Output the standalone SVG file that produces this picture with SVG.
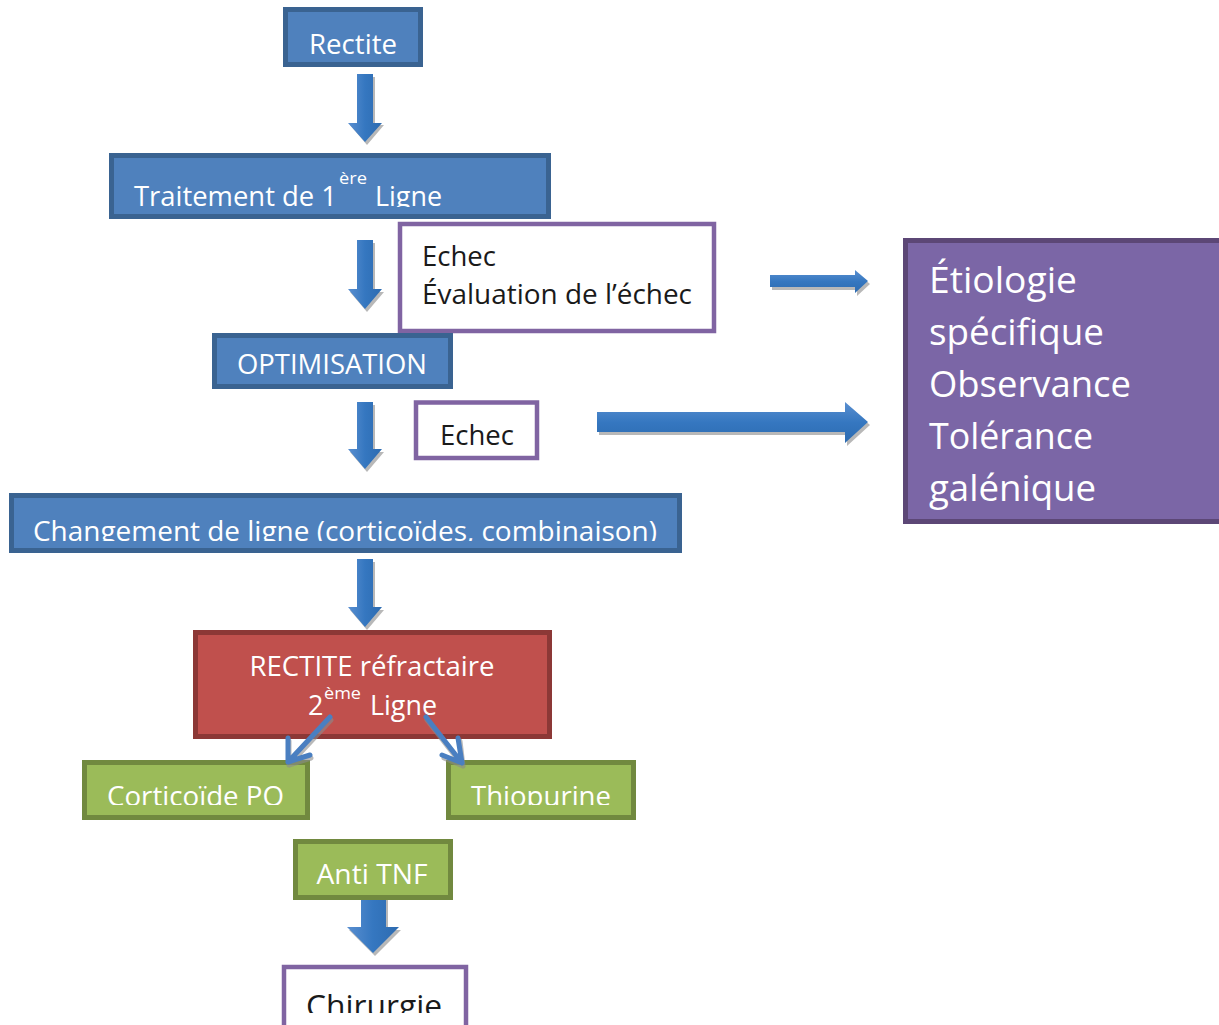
<svg xmlns="http://www.w3.org/2000/svg" width="1219" height="1025" viewBox="0 0 1219 1025">
<style>
  .blue{fill:#4f81bd;stroke:#3a6391;stroke-width:5}
  .red{fill:#c0504d;stroke:#8c3836;stroke-width:5}
  .green{fill:#9bbb59;stroke:#71893f;stroke-width:5}
  .purp{fill:#7b66a6;stroke:#5c4776;stroke-width:5}
  .white{fill:#ffffff;stroke:#8064a2;stroke-width:4.5}
  text{font-family:"Open Sans","Noto Sans","DejaVu Sans",sans-serif}
  .tw{fill:#ffffff;font-size:27px}
  .tb{fill:#1a1a1a;font-size:27px}
  .sup{font-size:16px}
  .big{fill:#ffffff;font-size:36px}
  .arr{fill:url(#gv)}
  .arrh{fill:url(#gh)}
  .sh{fill:#a6a6a6;opacity:0.8}
  .diag{stroke:#4a7fc1;stroke-width:5;fill:none;stroke-linecap:round;stroke-linejoin:round}
  .diagsh{stroke:#8a8a8a;stroke-width:5;fill:none;stroke-linecap:round;stroke-linejoin:round;opacity:0.6}
</style>
<defs>
  <linearGradient id="gv" x1="0" y1="0" x2="1" y2="0">
    <stop offset="0" stop-color="#5a8fd0"/>
    <stop offset="0.5" stop-color="#3577c0"/>
    <stop offset="1" stop-color="#2d6bb0"/>
  </linearGradient>
  <linearGradient id="gh" x1="0" y1="0" x2="0" y2="1">
    <stop offset="0" stop-color="#5a8fd0"/>
    <stop offset="0.5" stop-color="#3577c0"/>
    <stop offset="1" stop-color="#2d6bb0"/>
  </linearGradient>
  <clipPath id="c1"><rect x="100" y="150" width="460" height="57"/></clipPath>
  <clipPath id="c2"><rect x="0" y="490" width="700" height="51"/></clipPath>
  <clipPath id="c3"><rect x="80" y="760" width="600" height="45"/></clipPath>
  <clipPath id="c4"><rect x="280" y="960" width="200" height="53"/></clipPath>
</defs>

<g id="connectors">
  <polygon class="sh" points="359,77 375,77 375,125 384,125 367,145 350,125 359,125"/>
  <polygon class="arr" points="357,74 373,74 373,123 382,123 365,142 348,123 357,123"/>
  <polygon class="sh" points="359,243 375,243 375,292 384,292 367,312 350,292 359,292"/>
  <polygon class="arr" points="357,240 373,240 373,289 382,289 365,309 348,289 357,289"/>
  <polygon class="sh" points="359,405 375,405 375,452 384,452 367,472 350,452 359,452"/>
  <polygon class="arr" points="357,402 373,402 373,449 382,449 365,469 348,449 357,449"/>
  <polygon class="sh" points="359,562 375,562 375,610 384,610 367,630 350,610 359,610"/>
  <polygon class="arr" points="357,559 373,559 373,607 382,607 365,627 348,607 357,607"/>
  <polygon class="sh" points="364,900 388,900 388,930 401,930 375,956 349,930 364,930"/>
  <polygon class="arr" points="361,897 386,897 386,927 399,927 373,953 347,927 361,927"/>
  <polygon class="sh" points="772,278 857,278 857,273 870,284 857,296 857,290 772,290"/>
  <polygon class="arrh" points="770,275 855,275 855,270 868,281 855,293 855,287 770,287"/>
  <polygon class="sh" points="599,415 847,415 847,405 870,425 847,446 847,435 599,435"/>
  <polygon class="arrh" points="597,412 845,412 845,402 868,422 845,443 845,432 597,432"/>
</g>

<g id="rectite">
  <rect class="blue" x="285.5" y="9.5" width="135" height="55"/>
  <text class="tw" x="353" y="54" text-anchor="middle" textLength="88" lengthAdjust="spacingAndGlyphs">Rectite</text>
</g>

<g id="traitement">
  <rect class="blue" x="111.5" y="155.5" width="437" height="61"/>
  <g clip-path="url(#c1)">
    <text class="tw" x="134" y="206" textLength="203" lengthAdjust="spacingAndGlyphs">Traitement de 1</text>
    <text class="tw" x="375" y="206" textLength="67" lengthAdjust="spacingAndGlyphs">Ligne</text>
  </g>
  <text class="tw sup" x="339" y="184" textLength="28" lengthAdjust="spacingAndGlyphs">ère</text>
</g>

<g id="echec1">
  <rect class="white" x="400" y="224" width="314" height="107"/>
  <text class="tb" x="422" y="266" textLength="74" lengthAdjust="spacingAndGlyphs">Echec</text>
  <text class="tb" x="422" y="304" textLength="270" lengthAdjust="spacingAndGlyphs">Évaluation de l’échec</text>
</g>

<g id="optimisation">
  <rect class="blue" x="214.5" y="335.5" width="236" height="51"/>
  <text class="tw" x="332" y="374" text-anchor="middle" textLength="190" lengthAdjust="spacingAndGlyphs">OPTIMISATION</text>
</g>

<g id="echec2">
  <rect class="white" x="416" y="402.5" width="121" height="55.5"/>
  <text class="tb" x="440" y="445" textLength="74" lengthAdjust="spacingAndGlyphs">Echec</text>
</g>

<g id="etiologie">
  <rect class="purp" x="905.5" y="240.5" width="330" height="281"/>
  <text class="big" x="929" y="293" textLength="148" lengthAdjust="spacingAndGlyphs">Étiologie</text>
  <text class="big" x="929" y="345" textLength="175" lengthAdjust="spacingAndGlyphs">spécifique</text>
  <text class="big" x="929" y="397" textLength="202" lengthAdjust="spacingAndGlyphs">Observance</text>
  <text class="big" x="929" y="449" textLength="164" lengthAdjust="spacingAndGlyphs">Tolérance</text>
  <text class="big" x="929" y="501" textLength="167" lengthAdjust="spacingAndGlyphs">galénique</text>
</g>

<g id="changement">
  <rect class="blue" x="11.5" y="495.5" width="668" height="55"/>
  <g clip-path="url(#c2)">
    <text class="tw" x="33" y="541" textLength="624" lengthAdjust="spacingAndGlyphs">Changement de ligne (corticoïdes, combinaison)</text>
  </g>
</g>

<g id="refractaire">
  <rect class="red" x="195.5" y="632.5" width="354" height="104"/>
  <text class="tw" x="372" y="676" text-anchor="middle" textLength="245" lengthAdjust="spacingAndGlyphs">RECTITE réfractaire</text>
  <text class="tw" x="308" y="715">2</text>
  <text class="tw sup" x="324" y="699" textLength="37" lengthAdjust="spacingAndGlyphs">ème</text>
  <text class="tw" x="370" y="715" textLength="67" lengthAdjust="spacingAndGlyphs">Ligne</text>
</g>

<g id="corticoide">
  <rect class="green" x="84.5" y="762.5" width="223" height="55"/>
  <g clip-path="url(#c3)">
    <text class="tw" x="107" y="806" textLength="177" lengthAdjust="spacingAndGlyphs">Corticoïde PO</text>
  </g>
</g>

<g id="thiopurine">
  <rect class="green" x="448.5" y="762.5" width="185" height="55"/>
  <g clip-path="url(#c3)">
    <text class="tw" x="471" y="806" textLength="140" lengthAdjust="spacingAndGlyphs">Thiopurine</text>
  </g>
</g>

<g id="antitnf">
  <rect class="green" x="295.5" y="841.5" width="155" height="56"/>
  <text class="tw" x="372" y="884" text-anchor="middle" textLength="111" lengthAdjust="spacingAndGlyphs">Anti TNF</text>
</g>

<g id="chirurgie">
  <rect class="white" x="284" y="967" width="182" height="70"/>
  <g clip-path="url(#c4)">
    <text class="tb" x="306" y="1017" style="font-size:31px" textLength="136" lengthAdjust="spacingAndGlyphs">Chirurgie</text>
  </g>
</g>

<g id="connectors-diagonal">
  <path class="diagsh" d="M331,720 L289,765 M289,741 L289,765 L311,758"/>
  <path class="diag" d="M330,717 L288,762 M288,738 L288,762 L310,755"/>
  <path class="diagsh" d="M427,720 L463,766 M444,758 L463,766 L460,741"/>
  <path class="diag" d="M426,717 L462,763 M442,755 L462,763 L458,738"/>
</g>
</svg>
